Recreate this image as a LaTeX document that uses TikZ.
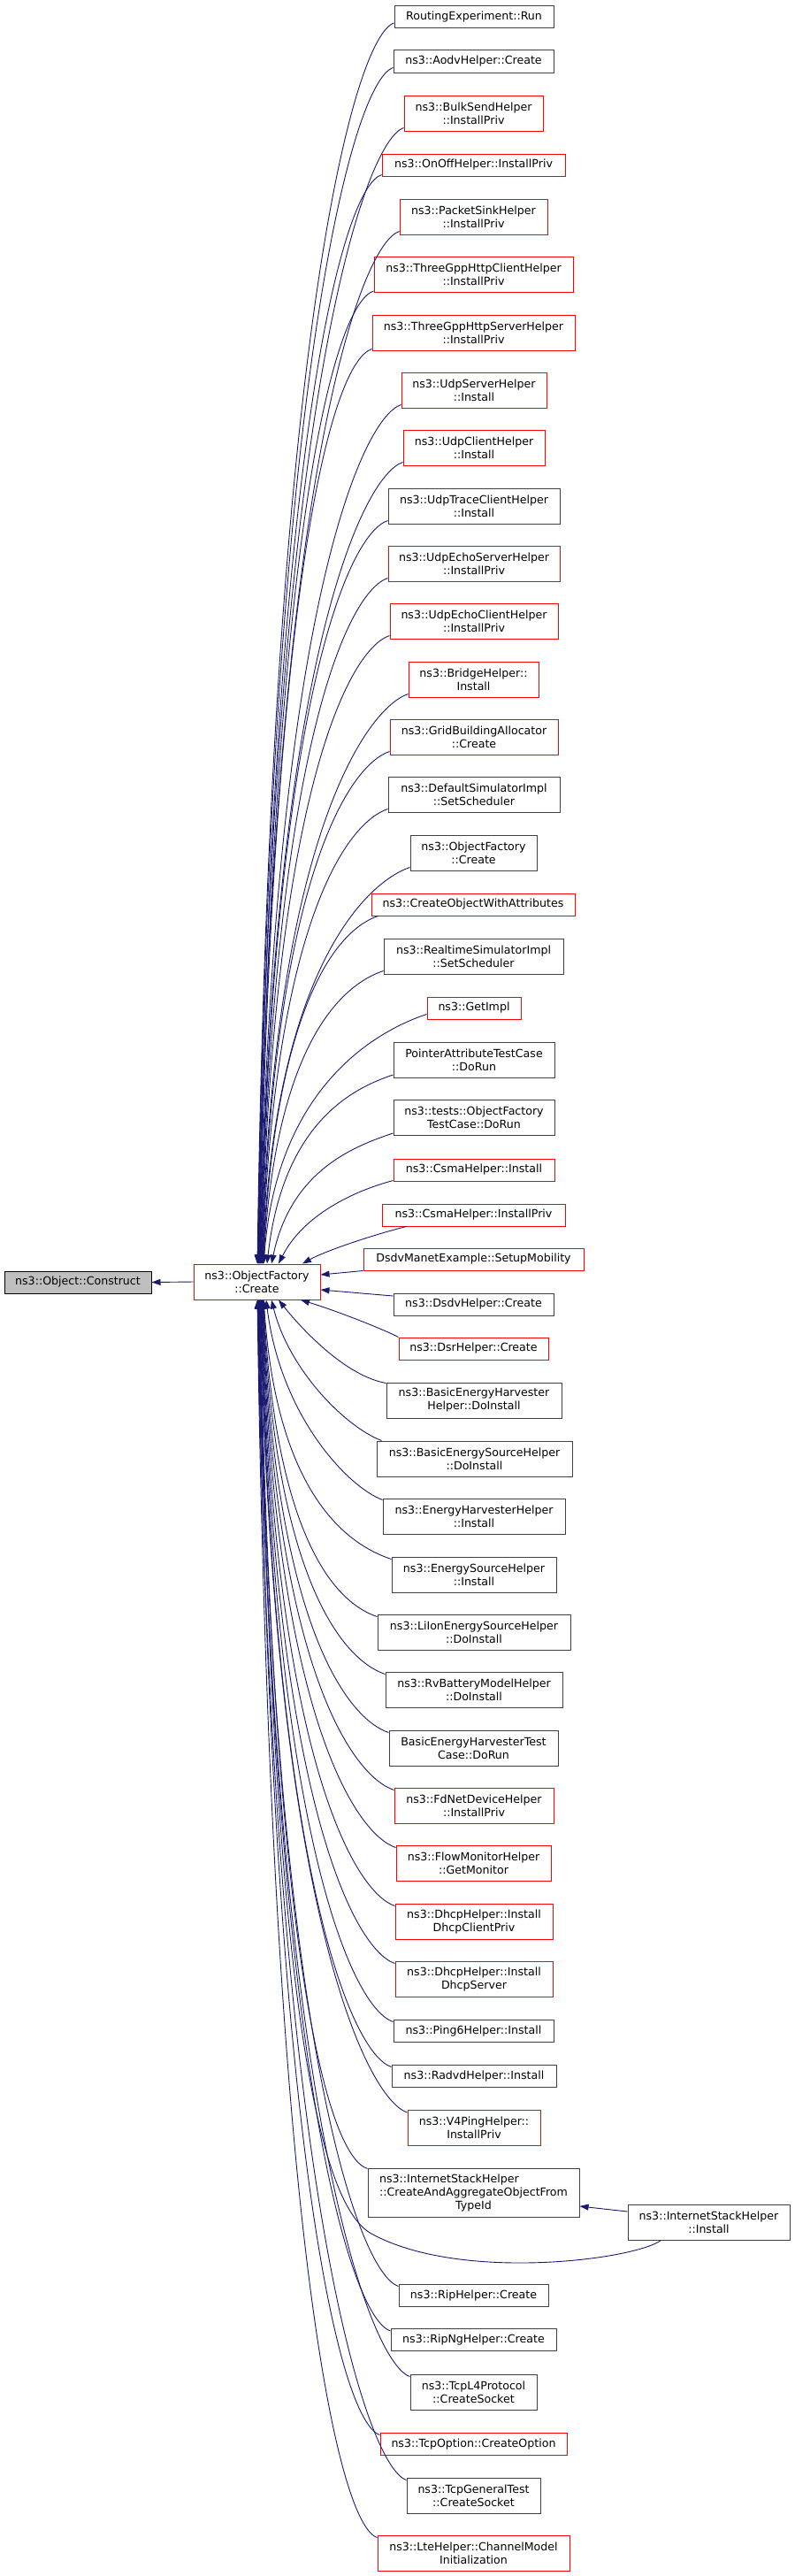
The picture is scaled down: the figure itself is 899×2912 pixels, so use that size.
\documentclass[tikz,border=0pt]{standalone}
\usepackage{fontspec}
\setmainfont{DejaVu Sans}
\usetikzlibrary{arrows.meta}
\definecolor{edgeblue}{HTML}{191970}
\definecolor{boxgray}{HTML}{404040}
\definecolor{boxred}{HTML}{FF0000}
\definecolor{rootfill}{HTML}{BFBFBF}
\tikzset{
  fnbox/.style={rectangle, draw=boxgray, fill=white, line width=1pt, inner sep=0pt, align=center, font=\fontsize{12.6pt}{15pt}\selectfont},
  trunc/.style={fnbox, draw=boxred},
  rootbox/.style={fnbox, draw=black, fill=rootfill},
  one/.style={minimum height=25pt},
  two/.style={minimum height=40pt},
  three/.style={minimum height=55pt},
  edge/.style={draw=edgeblue, line width=0.9pt, -{Triangle[length=10pt,width=7pt]}}
}
\begin{document}
\begin{tikzpicture}[x=1pt, y=-1pt]
\fill[white] (0,0) rectangle (899,2912);
\useasboundingbox (0,0) rectangle (899,2912);
% root and main
\node[rootbox, one, minimum width=166pt] (construct) at (88,1449.5) {ns3::Object::Construct};
\node[trunc, two, minimum width=143pt] (main) at (290.5,1449) {ns3::ObjectFactory\\::Create};
% callers
\node[fnbox, one, minimum width=180pt] (n1) at (536,19) {RoutingExperiment::Run};
\node[fnbox, one, minimum width=181pt] (n2) at (535.5,69.5) {ns3::AodvHelper::Create};
\node[trunc, two, minimum width=157pt] (n3) at (535.5,128) {ns3::BulkSendHelper\\::InstallPriv};
\node[trunc, one, minimum width=207pt] (n4) at (535.5,186.5) {ns3::OnOffHelper::InstallPriv};
\node[trunc, two, minimum width=167pt] (n5) at (535.5,245) {ns3::PacketSinkHelper\\::InstallPriv};
\node[trunc, two, minimum width=225pt] (n6) at (535.5,310.5) {ns3::ThreeGppHttpClientHelper\\::InstallPriv};
\node[trunc, two, minimum width=229pt] (n7) at (535.5,376) {ns3::ThreeGppHttpServerHelper\\::InstallPriv};
\node[trunc, two, minimum width=164pt] (n8) at (536,441) {ns3::UdpServerHelper\\::Install};
\node[trunc, two, minimum width=160pt] (n9) at (536,506) {ns3::UdpClientHelper\\::Install};
\node[fnbox, two, minimum width=194pt] (n10) at (536,572) {ns3::UdpTraceClientHelper\\::Install};
\node[trunc, two, minimum width=194pt] (n11) at (536,637) {ns3::UdpEchoServerHelper\\::InstallPriv};
\node[trunc, two, minimum width=190pt] (n12) at (536,702) {ns3::UdpEchoClientHelper\\::InstallPriv};
\node[trunc, two, minimum width=147pt] (n13) at (535.5,768) {ns3::BridgeHelper::\\Install};
\node[trunc, two, minimum width=190pt] (n14) at (536,833) {ns3::GridBuildingAllocator\\::Create};
\node[fnbox, two, minimum width=194pt] (n15) at (536,898) {ns3::DefaultSimulatorImpl\\::SetScheduler};
\node[fnbox, two, minimum width=143pt] (n16) at (535.5,964) {ns3::ObjectFactory\\::Create};
\node[trunc, one, minimum width=230pt] (n17) at (535,1022.5) {ns3::CreateObjectWithAttributes};
\node[fnbox, two, minimum width=203pt] (n18) at (535.5,1081) {ns3::RealtimeSimulatorImpl\\::SetScheduler};
\node[trunc, one, minimum width=106pt] (n19) at (536,1139.5) {ns3::GetImpl};
\node[fnbox, two, minimum width=182pt] (n20) at (536,1198.5) {PointerAttributeTestCase\\::DoRun};
\node[fnbox, two, minimum width=182pt] (n21) at (536,1263.5) {ns3::tests::ObjectFactory\\TestCase::DoRun};
\node[trunc, one, minimum width=182pt] (n22) at (536,1322.5) {ns3::CsmaHelper::Install};
\node[trunc, one, minimum width=207pt] (n23) at (535.5,1373.5) {ns3::CsmaHelper::InstallPriv};
\node[trunc, one, minimum width=249pt] (n24) at (535.5,1423.5) {DsdvManetExample::SetupMobility};
\node[fnbox, one, minimum width=181pt] (n25) at (535.5,1474.5) {ns3::DsdvHelper::Create};
\node[trunc, one, minimum width=169pt] (n26) at (535.5,1524.5) {ns3::DsrHelper::Create};
\node[fnbox, two, minimum width=198pt] (n27) at (536,1583) {ns3::BasicEnergyHarvester\\Helper::DoInstall};
\node[fnbox, two, minimum width=221pt] (n28) at (536.5,1649) {ns3::BasicEnergySourceHelper\\::DoInstall};
\node[fnbox, two, minimum width=206pt] (n29) at (536,1714) {ns3::EnergyHarvesterHelper\\::Install};
\node[fnbox, two, minimum width=186pt] (n30) at (536,1780) {ns3::EnergySourceHelper\\::Install};
\node[fnbox, two, minimum width=218pt] (n31) at (536,1845) {ns3::LiIonEnergySourceHelper\\::DoInstall};
\node[fnbox, two, minimum width=200pt] (n32) at (536,1910) {ns3::RvBatteryModelHelper\\::DoInstall};
\node[fnbox, two, minimum width=191pt] (n33) at (535.5,1976) {BasicEnergyHarvesterTest\\Case::DoRun};
\node[trunc, two, minimum width=180pt] (n34) at (536,2041) {ns3::FdNetDeviceHelper\\::InstallPriv};
\node[trunc, two, minimum width=175pt] (n35) at (535.5,2106) {ns3::FlowMonitorHelper\\::GetMonitor};
\node[trunc, two, minimum width=178pt] (n36) at (536,2172) {ns3::DhcpHelper::Install\\DhcpClientPriv};
\node[trunc, two, minimum width=178pt] (n37) at (536,2237) {ns3::DhcpHelper::Install\\DhcpServer};
\node[fnbox, one, minimum width=181pt] (n38) at (535.5,2295.5) {ns3::Ping6Helper::Install};
\node[fnbox, one, minimum width=186pt] (n39) at (536,2346.5) {ns3::RadvdHelper::Install};
\node[trunc, two, minimum width=150pt] (n40) at (536,2405.5) {ns3::V4PingHelper::\\InstallPriv};
\node[fnbox, three, minimum width=239pt] (n41) at (535.5,2478.5) {\rlap{ns3::InternetStackHelper}\phantom{::CreateAndAggregateObjectFrom}\\::CreateAndAggregateObjectFrom\\TypeId};
\node[fnbox, one, minimum width=169pt] (n42) at (535.5,2594.5) {ns3::RipHelper::Create};
\node[fnbox, one, minimum width=187pt] (n43) at (535.5,2645) {ns3::RipNgHelper::Create};
\node[fnbox, two, minimum width=143pt] (n44) at (535.5,2704) {ns3::TcpL4Protocol\\::CreateSocket};
\node[trunc, one, minimum width=211pt] (n45) at (535.5,2762.5) {ns3::TcpOption::CreateOption};
\node[fnbox, two, minimum width=151pt] (n46) at (535.5,2821) {ns3::TcpGeneralTest\\::CreateSocket};
\node[trunc, two, minimum width=217pt] (n47) at (535.5,2886) {ns3::LteHelper::ChannelModel\\Initialization};
\node[fnbox, two, minimum width=183pt] (ish) at (801.5,2512) {ns3::InternetStackHelper\\::Install};
% main -> construct
\draw[edge] (main.west) -- (construct.east);
% upper callers
\draw[edge] ([yshift=6pt]n1.south west) .. controls +(-45,15) and +(15,-1050) .. ([xshift=0.5pt]main.north);
\draw[edge] ([yshift=6pt]n2.south west) .. controls +(-45,15) and +(15,-1012) .. ([xshift=0.9pt]main.north);
\draw[edge] ([yshift=4pt]n3.south west) .. controls +(-45,15) and +(15,-968) .. ([xshift=1.3pt]main.north);
\draw[edge] ([yshift=2pt]n4.south west) .. controls +(-45,15) and +(15,-924) .. ([xshift=1.7pt]main.north);
\draw[edge] ([yshift=4pt]n5.south west) .. controls +(-45,15) and +(15,-880) .. ([xshift=2.1pt]main.north);
\draw[edge] ([yshift=2pt]n6.south west) .. controls +(-45,15) and +(15,-831) .. ([xshift=2.5pt]main.north);
\draw[edge] ([yshift=2pt]n7.south west) .. controls +(-45,15) and +(15,-782) .. ([xshift=2.9pt]main.north);
\draw[edge] ([yshift=4pt]n8.south west) .. controls +(-45,15) and +(15,-733) .. ([xshift=3.3pt]main.north);
\draw[edge] ([yshift=4pt]n9.south west) .. controls +(-45,15) and +(15,-685) .. ([xshift=3.7pt]main.north);
\draw[edge] ([yshift=4pt]n10.south west) .. controls +(-45,15) and +(15,-635) .. ([xshift=4.1pt]main.north);
\draw[edge] ([yshift=4pt]n11.south west) .. controls +(-45,15) and +(15,-586) .. ([xshift=4.5pt]main.north);
\draw[edge] ([yshift=4pt]n12.south west) .. controls +(-45,15) and +(15,-538) .. ([xshift=4.9pt]main.north);
\draw[edge] ([yshift=4pt]n13.south west) .. controls +(-45,15) and +(15,-488) .. ([xshift=5.3pt]main.north);
\draw[edge] ([yshift=4pt]n14.south west) .. controls +(-45,15) and +(15,-440) .. ([xshift=5.7pt]main.north);
\draw[edge] ([yshift=4pt]n15.south west) .. controls +(-45,15) and +(15,-391) .. ([xshift=6.1pt]main.north);
\draw[edge] ([yshift=4pt]n16.south west) .. controls +(-45,15) and +(15,-341) .. ([xshift=6.5pt]main.north);
\draw[edge] ([xshift=8pt]n17.south west) .. controls +(-45,15) and +(15,-297) .. ([xshift=6.9pt]main.north);
\draw[edge] ([yshift=4pt]n18.south west) .. controls +(-45,15) and +(15,-253) .. ([xshift=7.3pt]main.north);
\draw[edge] ([yshift=6pt]n19.south west) .. controls +(-45,15) and +(15,-210) .. ([xshift=7.7pt]main.north);
\draw[edge] ([yshift=4pt]n20.south west) .. controls +(-45,15) and +(18,-160) .. ([xshift=11.5pt]main.north);
\draw[edge] ([yshift=3pt]n21.south west) .. controls +(-45,15) and +(22,-105) .. ([xshift=16.5pt]main.north);
\draw[edge] ([yshift=1pt]n22.south west) .. controls +(-45,12) and +(28,-55) .. ([xshift=24.5pt]main.north);
\draw[edge] ([xshift=28pt]n23.south west) .. controls +(-40,10) and +(25,-14) .. ([xshift=51.5pt]main.north);
\draw[edge] (n24.south west) -- ([yshift=8pt]main.east);
\draw[edge] ([yshift=9.5pt]n25.west) -- ([yshift=-9pt]main.east);
% lower callers
\draw[edge] (n26.north west) .. controls +(-15,-8) and +(40,12) .. ([xshift=49.5pt]main.south);
\draw[edge] ([yshift=-1pt]n27.north west) .. controls +(-45,-8) and +(28,35) .. ([xshift=24.5pt]main.south);
\draw[edge] ([xshift=6pt]n28.north west) .. controls +(-40,-15) and +(20,80) .. ([xshift=16.5pt]main.south);
\draw[edge] ([yshift=-2pt]n29.north west) .. controls +(-40,-15) and +(16,130) .. ([xshift=10.5pt]main.south);
\draw[edge] ([yshift=-3pt]n30.north west) .. controls +(-45,-15) and +(15,226) .. ([xshift=7.7pt]main.south);
\draw[edge] ([yshift=-3pt]n31.north west) .. controls +(-45,-15) and +(15,275) .. ([xshift=7.3pt]main.south);
\draw[edge] ([yshift=-3pt]n32.north west) .. controls +(-45,-15) and +(15,323) .. ([xshift=6.9pt]main.south);
\draw[edge] ([yshift=-3pt]n33.north west) .. controls +(-45,-15) and +(15,373) .. ([xshift=6.5pt]main.south);
\draw[edge] ([yshift=-3pt]n34.north west) .. controls +(-45,-15) and +(15,422) .. ([xshift=6.1pt]main.south);
\draw[edge] ([yshift=-3pt]n35.north west) .. controls +(-45,-15) and +(15,470) .. ([xshift=5.7pt]main.south);
\draw[edge] ([yshift=-3pt]n36.north west) .. controls +(-45,-15) and +(15,520) .. ([xshift=5.3pt]main.south);
\draw[edge] ([yshift=-3pt]n37.north west) .. controls +(-45,-15) and +(15,569) .. ([xshift=4.9pt]main.south);
\draw[edge] ([yshift=-3pt]n38.north west) .. controls +(-45,-15) and +(15,612) .. ([xshift=4.5pt]main.south);
\draw[edge] ([yshift=-3pt]n39.north west) .. controls +(-45,-15) and +(15,650) .. ([xshift=4.1pt]main.south);
\draw[edge] ([yshift=-3pt]n40.north west) .. controls +(-45,-15) and +(15,695) .. ([xshift=3.7pt]main.south);
\draw[edge] ([yshift=-1pt]n41.north west) .. controls +(-45,-15) and +(15,750) .. ([xshift=3.3pt]main.south);
\coordinate (ishbend) at (420,2525);
\draw[edge] ([xshift=38pt]ish.south west) .. controls +(-30,22) and (520,2580) .. (ishbend) .. controls (360,2492) and +(14,790) .. ([xshift=2.9pt]main.south);
\draw[edge] ([yshift=-3pt]n42.north west) .. controls +(-45,-15) and +(15,837) .. ([xshift=2.5pt]main.south);
\draw[edge] ([yshift=-3pt]n43.north west) .. controls +(-45,-15) and +(15,875) .. ([xshift=2.1pt]main.south);
\draw[edge] ([yshift=-3pt]n44.north west) .. controls +(-45,-15) and +(15,919) .. ([xshift=1.7pt]main.south);
\draw[edge] ([yshift=-3pt]n45.north west) .. controls +(-45,-15) and +(15,963) .. ([xshift=1.3pt]main.south);
\draw[edge] ([yshift=-3pt]n46.north west) .. controls +(-45,-15) and +(15,1006) .. ([xshift=0.9pt]main.south);
\draw[edge] ([yshift=-3pt]n47.north west) .. controls +(-45,-15) and +(15,1055) .. ([xshift=0.5pt]main.south);
\draw[edge] ([yshift=12pt]ish.west) -- ([yshift=-15.5pt]n41.east);
\end{tikzpicture}
\end{document}
